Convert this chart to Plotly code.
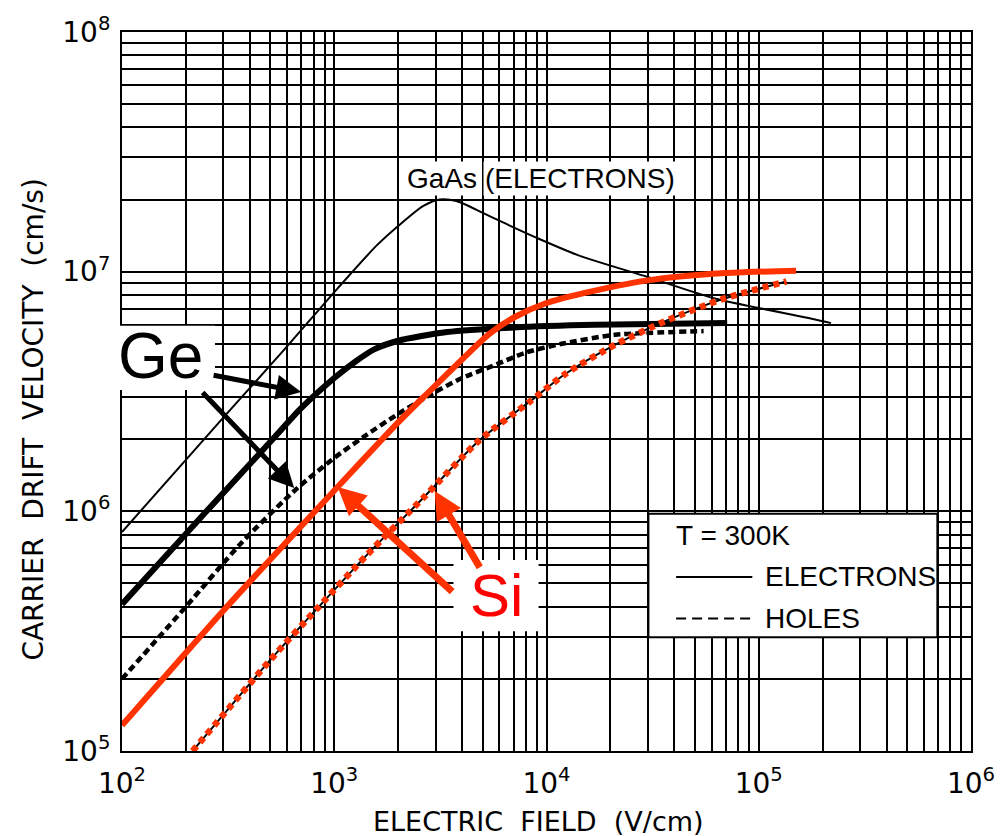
import plotly.graph_objects as go

# Drift velocity vs electric field at T = 300 K (log-log)
gaas_e_field = [100, 300, 584, 1035, 1590, 2120, 2630, 3140, 3760, 5010, 6670,
                8890, 14150, 30000, 61500, 180000, 219000]
gaas_e_vel = [8.2e5, 2.46e6, 4.75e6, 8.5e6, 1.29e7, 1.62e7, 1.88e7, 2.0e7, 1.97e7,
              1.76e7, 1.56e7, 1.39e7, 1.17e7, 9.5e6, 7.75e6, 6.35e6, 6.1e6]

ge_e_field = [100, 250, 500, 700, 1000, 1250, 1550, 2000, 3400, 7000, 17000, 71000]
ge_e_vel = [4.1e5, 1.0e6, 1.95e6, 2.7e6, 3.6e6, 4.2e6, 4.75e6, 5.15e6, 5.6e6,
            5.85e6, 6.0e6, 6.1e6]

ge_h_field = [100, 200, 366, 670, 1000, 1380, 2000, 2900, 4000, 5800, 8000, 11800,
              21000, 55000]
ge_h_vel = [2.0e5, 4.0e5, 7.4e5, 1.25e6, 1.67e6, 2.05e6, 2.55e6, 3.1e6, 3.6e6,
            4.1e6, 4.6e6, 5.0e6, 5.45e6, 5.65e6]

si_e_field = [100, 300, 1000, 2000, 2740, 4000, 5380, 7170, 10000, 14650, 30000,
              61000, 150000]
si_e_vel = [1.28e5, 3.85e5, 1.22e6, 2.35e6, 3.1e6, 4.3e6, 5.5e6, 6.5e6, 7.4e6,
            8.1e6, 9.2e6, 9.8e6, 1.01e7]

si_h_field = [215, 500, 835, 1430, 2630, 4830, 8260, 12300, 21000, 36000, 68000, 135000]
si_h_vel = [1.0e5, 2.4e5, 3.95e5, 6.6e5, 1.14e6, 1.98e6, 2.85e6, 3.75e6, 4.95e6,
            6.2e6, 7.7e6, 9.1e6]

x_decades = [2, 3, 4, 5, 6]
y_decades = [5, 6, 7, 8]

W, H = 1007, 836
ML, MR, MT, MB = 122, 27, 24, 85
PW, PH = W - ML - MR, H - MT - MB

RED = "#ff3300"
SANS = "Liberation Sans"
WIDE = "DejaVu Sans"
NB = "\u00a0"


def px(p):
    return (p - ML) / PW


def py(p):
    return (H - MB - p) / PH


def grid_vals(decades):
    vals, text = [], []
    for d in decades[:-1]:
        for k in range(1, 10):
            vals.append(k * 10 ** d)
            text.append(f"10<sup>{d}</sup>" if k == 1 else "")
    vals.append(10 ** decades[-1])
    text.append(f"10<sup>{decades[-1]}</sup>")
    return vals, text


xv, xt = grid_vals(x_decades)
yv, yt = grid_vals(y_decades)

smooth = dict(shape="spline", smoothing=0.7)

fig = go.Figure()
fig.add_trace(go.Scatter(x=gaas_e_field, y=gaas_e_vel, mode="lines",
                         line=dict(color="black", width=2, **smooth)))
fig.add_trace(go.Scatter(x=ge_e_field, y=ge_e_vel, mode="lines",
                         line=dict(color="black", width=6, **smooth)))
fig.add_trace(go.Scatter(x=ge_h_field, y=ge_h_vel, mode="lines",
                         line=dict(color="black", width=4.5, dash="7px,4px", **smooth)))
fig.add_trace(go.Scatter(x=si_e_field, y=si_e_vel, mode="lines",
                         line=dict(color=RED, width=6, **smooth)))
fig.add_trace(go.Scatter(x=si_h_field, y=si_h_vel, mode="lines",
                         line=dict(color="black", width=2, **smooth)))
fig.add_trace(go.Scatter(x=si_h_field, y=si_h_vel, mode="lines",
                         line=dict(color=RED, width=6.5, dash="6px,5px", **smooth)))

axis_common = dict(type="log", showgrid=True, gridcolor="black", gridwidth=1.9,
                   showline=True, linecolor="black", linewidth=2, mirror=True,
                   ticks="", zeroline=False, tickmode="array",
                   tickfont=dict(family=WIDE, size=28, color="black"))
fig.update_xaxes(**axis_common, range=[2, 6], tickvals=xv, ticktext=xt,
                 ticklabelstandoff=6)
fig.update_yaxes(**axis_common, range=[5, 8], tickvals=yv, ticktext=yt,
                 ticklabelstandoff=4)

shapes = []
# T = 300K key panel
shapes.append(dict(type="rect", xref="paper", yref="paper",
                   x0=px(654), x1=px(946), y0=py(636), y1=py(511),
                   fillcolor="white", line=dict(color="black", width=2), layer="above"))
shapes.append(dict(type="line", xref="paper", yref="paper",
                   x0=px(682), x1=px(759), y0=py(575), y1=py(575),
                   line=dict(color="black", width=2)))
shapes.append(dict(type="line", xref="paper", yref="paper",
                   x0=px(682), x1=px(759), y0=py(617), y1=py(617),
                   line=dict(color="black", width=2, dash="10px,6px")))
# white label backgrounds
shapes.append(dict(type="rect", xref="paper", yref="paper",
                   x0=px(113), x1=px(216), y0=py(386), y1=py(321),
                   fillcolor="white", line=dict(width=0), layer="above"))
shapes.append(dict(type="rect", xref="paper", yref="paper",
                   x0=px(457), x1=px(543), y0=py(630), y1=py(558),
                   fillcolor="white", line=dict(width=0), layer="above"))

ann = []


def label(text, x, y, size, color="black", xanchor="left", bg=None, family=SANS):
    d = dict(text=text, xref="paper", yref="paper", x=px(x), y=py(y),
             xanchor=xanchor, yanchor="middle", showarrow=False,
             font=dict(family=family, size=size, color=color))
    if bg:
        d.update(bgcolor=bg, borderpad=1)
    ann.append(d)


label("T = 300K", 680, 533, 28)
label("ELECTRONS", 770, 575, 28)
label("HOLES", 770, 617, 28)
label("GaAs", 408, 172, 28, bg="white")
label("(ELECTRONS)", 487, 172, 28, bg="white")
label("Ge", 116, 352, 64)
label("Si", 472, 594, 60, color="#ff0000")
label(f"ELECTRIC{NB}{NB}FIELD{NB}{NB}(V/cm)", 543, 822, 27, xanchor="center",
      family=WIDE)
ann.append(dict(text=f"CARRIER{NB}{NB}DRIFT{NB}{NB}VELOCITY{NB}{NB}(cm/s)",
                xref="paper", yref="paper",
                x=px(33), y=py(416), xanchor="center", yanchor="middle",
                showarrow=False, textangle=-90,
                font=dict(family=WIDE, size=28, color="black")))


def arrow(tip_x, tip_y, tail_x, tail_y, color, width, size):
    ann.append(dict(text="", xref="x", yref="y",
                    x=2 + (tip_x - ML) / (PW / 4), y=5 + (H - MB - tip_y) / (PH / 3),
                    ax=tail_x - tip_x, ay=tail_y - tip_y, showarrow=True,
                    arrowhead=2, arrowsize=size, arrowwidth=width, arrowcolor=color,
                    standoff=0))


arrow(303, 388, 214, 371, "black", 5, 1.0)
arrow(296, 485, 203, 388, "black", 5, 1.0)
arrow(340, 484, 456, 590, RED, 7, 0.8)
arrow(438, 488, 484, 566, RED, 7, 0.8)

fig.update_layout(width=W, height=H, margin=dict(l=ML, r=MR, t=MT, b=MB),
                  paper_bgcolor="white", plot_bgcolor="white", showlegend=False,
                  shapes=shapes, annotations=ann)

fig.write_html("out.html")
